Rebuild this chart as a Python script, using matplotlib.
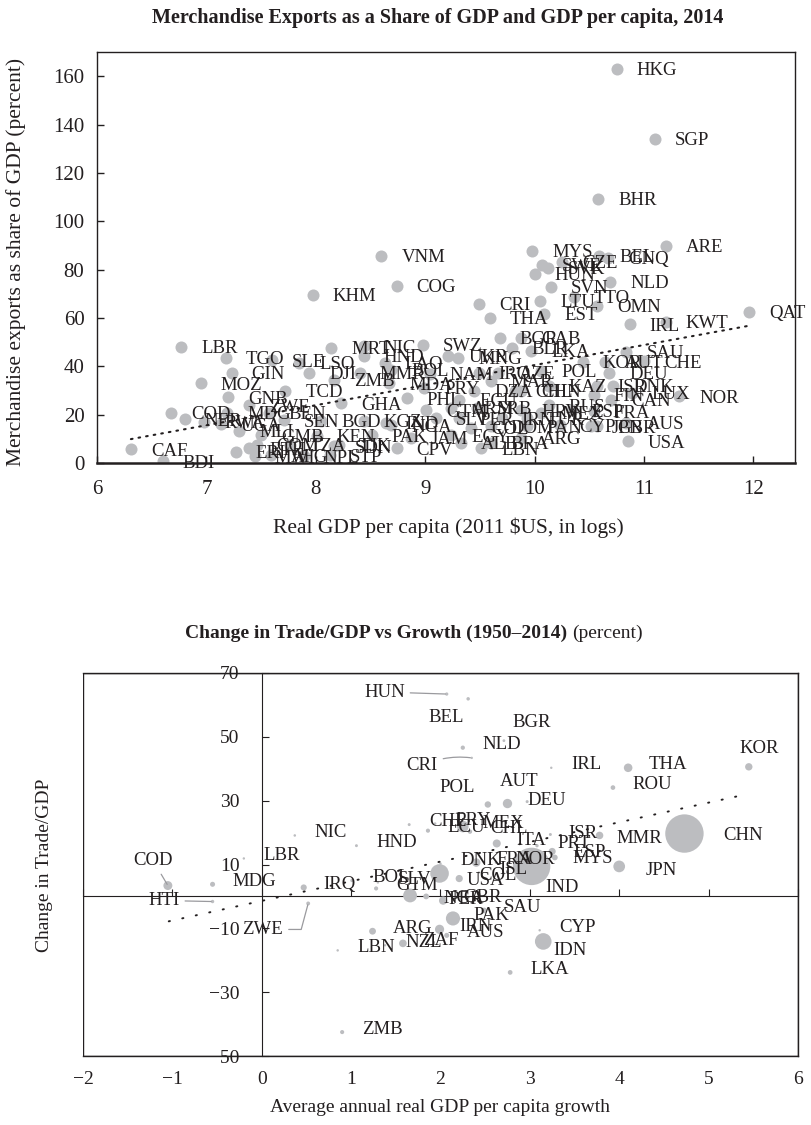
import matplotlib
matplotlib.use('Agg')
import matplotlib.pyplot as plt

plt.rcParams['font.family'] = ['Liberation Serif', 'DejaVu Serif']

INK = '#231f20'
DOT = '#bcbdc0'

# --- top chart: merchandise exports (% of GDP) vs log real GDP per capita, 2014
exp_codes = ['CAF', 'BDI', 'LBR', 'COD', 'NER', 'MOZ', 'TGO', 'GIN', 'GNB', 'ZWE',
             'RWA', 'UGA', 'MDG', 'BEN', 'MLI', 'GMB', 'SEN', 'ERI', 'ETH', 'COM',
             'TZA', 'NPL', 'MWI', 'AFG', 'TCD', 'SLE', 'LSO', 'DJI', 'KHM', 'MRT',
             'ZMB', 'GHA', 'KEN', 'SDN', 'STP', 'BGD', 'KGZ', 'IND', 'PAK', 'JAM',
             'CPV', 'LBN', 'PHL', 'ECU', 'DZA', 'MDA', 'MMR', 'BOL', 'NAM', 'IRQ',
             'AZE', 'HND', 'LAO', 'NIC', 'SWZ', 'UKR', 'MNG', 'BGR', 'GAB', 'BLR',
             'LKA', 'SAU', 'VNM', 'COG', 'CRI', 'THA', 'MYS', 'SWE', 'SVK', 'CZE',
             'BEL', 'GNQ', 'HUN', 'SVN', 'NLD', 'LTU', 'TTO', 'OMN', 'EST', 'IRL',
             'KWT', 'QAT', 'ARE', 'HKG', 'SGP', 'BHR', 'KOR', 'AUT', 'CHE', 'DEU',
             'ISR', 'DNK', 'LUX', 'FIN', 'CAN', 'NOR', 'FRA', 'ESP', 'AUS', 'GBR',
             'JPN', 'USA', 'CYP', 'POL', 'CHN', 'MAR', 'HRV', 'RUS', 'KAZ', 'CHL',
             'IRN', 'TUR', 'MEX', 'PAN', 'DOM', 'BRA', 'ARG', 'PER', 'COL', 'EGY',
             'GTM', 'SLV', 'ARM', 'ALB', 'SRB', 'PRY', 'NGA', 'TJK']
exp_gdp = [6.31, 6.60, 6.77, 6.68, 6.80, 6.95, 7.18, 7.23, 7.20, 7.39,
           6.98, 7.13, 7.19, 7.57, 7.30, 7.50, 7.71, 7.27, 7.39, 7.46,
           7.76, 7.89, 7.44, 7.59, 7.72, 7.60, 7.85, 7.94, 7.97, 8.14,
           8.17, 8.23, 8.01, 8.17, 8.13, 8.05, 8.44, 8.64, 8.51, 8.87,
           8.74, 9.51, 8.83, 9.31, 9.45, 8.67, 8.40, 8.69, 9.04, 9.49,
           9.67, 8.44, 8.63, 8.44, 8.98, 9.21, 9.30, 9.68, 9.88, 9.79,
           9.97, 10.84, 8.60, 8.74, 9.49, 9.59, 9.98, 10.07, 10.12, 10.25,
           10.59, 10.67, 10.00, 10.15, 10.69, 10.05, 10.36, 10.57, 10.09, 10.87,
           11.20, 11.96, 11.20, 10.75, 11.10, 10.58, 10.44, 10.64, 11.00, 10.68,
           10.57, 10.72, 10.89, 10.54, 10.70, 11.32, 10.54, 10.34, 10.84, 10.57,
           10.52, 10.85, 10.23, 10.06, 9.88, 9.60, 9.88, 10.13, 10.13, 9.82,
           9.70, 9.93, 10.06, 9.93, 9.60, 9.60, 9.88, 9.31, 9.42, 9.24,
           9.01, 9.10, 9.24, 9.33, 9.47, 8.99, 8.69, 8.21]
exp_share = [5.8, 0.8, 48.0, 20.7, 18.2, 33.1, 43.5, 37.3, 27.3, 24.0,
             17.0, 16.1, 20.7, 20.7, 13.3, 11.6, 17.8, 4.6, 6.2, 7.5,
             7.5, 2.9, 2.9, 3.3, 29.8, 42.6, 41.4, 37.3, 69.6, 47.6,
             34.4, 24.8, 11.2, 7.0, 3.3, 17.4, 17.4, 16.6, 11.6, 10.4,
             6.2, 6.2, 26.9, 26.1, 29.8, 33.1, 37.3, 38.5, 36.9, 37.3,
             37.3, 44.3, 41.4, 48.4, 48.9, 44.3, 43.5, 51.8, 51.8, 47.6,
             46.4, 46.0, 85.7, 73.3, 65.8, 60.0, 87.8, 82.0, 80.7, 83.2,
             85.7, 84.9, 78.3, 72.9, 75.0, 67.1, 68.7, 65.0, 61.7, 57.5,
             58.4, 62.5, 89.9, 163.1, 134.2, 109.3, 41.8, 41.8, 42.2, 37.3,
             31.9, 31.9, 29.0, 28.2, 26.1, 27.7, 21.5, 21.9, 16.6, 15.3,
             15.3, 9.1, 15.7, 38.1, 29.8, 34.0, 21.9, 24.0, 31.9, 29.8,
             18.6, 18.6, 20.7, 15.3, 15.3, 8.3, 10.4, 18.6, 14.5, 11.6,
             21.9, 18.6, 22.8, 8.3, 22.8, 31.1, 15.7, 7.5]
exp_trend_gdp = [6.31, 11.95]
exp_trend_share = [9.9, 56.7]

# --- bottom chart: change in trade/GDP vs average growth 1950-2014, bubble = population (m)
gr_codes = ['HUN', 'BEL', 'BGR', 'NLD', 'CRI', 'IRL', 'THA', 'KOR', 'POL', 'DEU',
            'AUT', 'ROU', 'CHN', 'MMR', 'ISR', 'PRT', 'ESP', 'MYS', 'ITA', 'JPN',
            'IND', 'CHE', 'ECU', 'PRY', 'MEX', 'CHL', 'NIC', 'HND', 'LBR', 'COD',
            'HTI', 'MDG', 'IRQ', 'ZWE', 'LBN', 'ARG', 'NZL', 'ZAF', 'IRN', 'AUS',
            'ZMB', 'BOL', 'SLV', 'GTM', 'NGA', 'PER', 'GBR', 'PAK', 'SAU', 'CYP',
            'IDN', 'LKA', 'USA', 'DNK', 'FRA', 'NOR', 'ISL', 'COL']
gr_growth = [2.07, 2.31, 2.71, 2.25, 2.35, 3.24, 4.10, 5.45, 2.53, 2.75,
             2.97, 3.93, 4.73, 3.78, 3.23, 3.08, 3.25, 3.28, 2.63, 4.00,
             3.02, 1.65, 1.86, 1.94, 2.25, 2.33, 0.37, 1.06, -0.20, -1.05,
             -0.55, -0.55, 0.47, 0.52, 0.85, 1.24, 1.38, 1.58, 1.99, 2.07,
             0.90, 1.01, 1.30, 1.28, 1.66, 1.84, 2.03, 2.14, 2.49, 3.11,
             3.15, 2.78, 1.99, 2.00, 2.40, 2.62, 2.43, 2.21]
gr_change = [63.4, 61.9, 48.8, 46.6, 43.4, 40.3, 40.3, 40.6, 28.8, 29.1,
             29.7, 34.1, 19.7, 19.1, 19.4, 15.9, 14.1, 12.2, 16.6, 9.4,
             9.4, 22.5, 20.6, 22.8, 21.9, 20.3, 19.1, 15.9, 11.9, 3.4,
             -1.6, 3.8, 2.8, -2.2, -16.9, -10.9, -15.3, -14.7, -10.3, -12.2,
             -42.5, 5.0, 4.4, 2.5, 0.3, 0.0, -1.3, -6.9, -4.4, -10.6,
             -14.1, -23.8, 7.2, 10.3, 10.6, 10.6, 7.5, 5.6]
gr_pop = [9.9, 11.2, 7.2, 16.9, 4.8, 4.6, 68.0, 50.4, 38.0, 81.0,
          8.5, 20.0, 1364.0, 53.0, 8.2, 10.4, 46.0, 30.0, 60.0, 127.0,
          1295.0, 8.1, 16.0, 6.6, 125.0, 18.0, 6.0, 8.0, 4.4, 74.0,
          10.6, 23.6, 35.0, 14.0, 5.6, 43.0, 4.5, 54.0, 78.0, 23.5,
          15.7, 10.6, 6.1, 16.0, 177.0, 31.0, 64.0, 185.0, 30.0, 1.1,
          255.0, 20.6, 319.0, 5.6, 66.0, 5.1, 0.3, 48.0]
gr_trend_growth = [-1.04, 5.36]
gr_trend_change = [-7.8, 31.6]

# label placement in the lower chart (pixel offsets from the dot, alignment, leader line)
PX = 0.72
gr_label_pos = {
    'HUN': (-42, -2, 'right', 'arc3'),
    'BEL': (-40, 19, 'left', None),
    'BGR': (9, -18, 'left', None),
    'CRI': (-34, 8, 'right', 'arc3,rad=-0.15'),
    'KOR': (-9, -18, 'left', None),
    'POL': (-48, -17, 'left', None),
    'AUT': (-27, -20, 'left', None),
    'CHN': (39, 2, 'left', None),
    'MMR': (17, 3, 'left', None),
    'ISR': (18, -1, 'left', None),
    'PRT': (20, -2, 'left', None),
    'ESP': (21, 1, 'left', None),
    'MYS': (18, 1, 'left', None),
    'JPN': (26, 4, 'left', None),
    'IND': (14, 21, 'left', None),
    'COD': (5, -25, 'right', 'arc3'),
    'HTI': (-33, -1, 'right', 'arc3'),
    'ZWE': (-25, 26, 'right', 'angle,angleA=0,angleB=75,rad=0'),
    'IDN': (10, 9, 'left', None),
    'USA': (27, 7, 'left', None),
    'PER': (22, 3, 'left', None),
    'NGA': (33, 3, 'left', None),
}

fig = plt.figure(figsize=(8.11, 11.25), dpi=100)

# ---------------- top chart
ax1 = fig.add_axes([0.1196, 0.5884, 0.8606, 0.3654])
ax1.scatter(exp_gdp, exp_share, s=75, color=DOT, linewidths=0, zorder=2)
ax1.plot(exp_trend_gdp, exp_trend_share, color=INK, lw=1.5,
         linestyle=(0, (0.8, 2.9)), dash_capstyle='round', zorder=3)
for code, gx, sh in zip(exp_codes, exp_gdp, exp_share):
    ax1.annotate(code, (gx, sh), xytext=(20 * PX, -2 * PX), textcoords='offset points',
                 ha='left', va='center', fontsize=13.5, color=INK, zorder=4,
                 annotation_clip=False)
ax1.set_xlim(6, 12.38)
ax1.set_ylim(0, 170)
ax1.set_xticks(range(6, 13))
ax1.set_yticks(range(0, 161, 20))
ax1.tick_params(direction='in', length=5, width=1, colors=INK, labelsize=15,
                top=False, right=False)
ax1.tick_params(axis='x', pad=12)
ax1.tick_params(axis='y', pad=9)
for sp in ax1.spines.values():
    sp.set_color(INK)
    sp.set_linewidth(1.0)
ax1.spines['bottom'].set_linewidth(1.8)

fig.text(438 / 811, 1 - 18 / 1125,
         'Merchandise Exports as a Share of GDP and GDP per capita, 2014',
         ha='center', va='center', fontsize=14.5, fontweight='bold', color=INK)
fig.text(448 / 811, 1 - 528 / 1125, 'Real GDP per capita (2011 $US, in logs)',
         ha='center', va='center', fontsize=15.5, color=INK)
fig.text(16 / 811, 1 - 262 / 1125, 'Merchandise exports as share of GDP (percent)',
         ha='center', va='center', rotation=90, fontsize=15.5, color=INK)

# ---------------- bottom chart
ax2 = fig.add_axes([0.1023, 0.0613, 0.8816, 0.3405])
sizes = [max(0.56 * p, 3) for p in gr_pop]
ax2.scatter(gr_growth, gr_change, s=sizes, color=DOT, linewidths=0, zorder=2)
ax2.plot(gr_trend_growth, gr_trend_change, color=INK, lw=1.4,
         linestyle=(0, (0.6, 6.5)), dash_capstyle='round', zorder=3)
for code, g, c in zip(gr_codes, gr_growth, gr_change):
    dx, dy, ha, conn = gr_label_pos.get(code, (20, -3, 'left', None))
    arrow = None
    if conn is not None:
        arrow = dict(arrowstyle='-', color='#9a9a9e', lw=0.9,
                     connectionstyle=conn, shrinkA=2, shrinkB=1)
    ax2.annotate(code, (g, c), xytext=(dx * PX, -dy * PX), textcoords='offset points',
                 ha=ha, va='center', fontsize=13.5, color=INK, zorder=4,
                 arrowprops=arrow, annotation_clip=False)
ax2.set_xlim(-2, 6)
ax2.set_ylim(-50, 70)

# box outline; left spine sits on x = 0 and carries the y ticks
ax2.spines['left'].set_position(('data', 0))
ax2.spines['left'].set_color(INK)
for side in ['top', 'right', 'bottom']:
    ax2.spines[side].set_color(INK)
    ax2.spines[side].set_linewidth(1.0)
ax2.add_patch(plt.Rectangle((0, 0), 1, 1, transform=ax2.transAxes, fill=False,
                            edgecolor=INK, lw=1.0, zorder=1))
ax2.set_yticks(range(-50, 71, 20))
ax2.tick_params(axis='y', direction='in', length=5, colors=INK, labelsize=14, pad=16)
ax2.set_xticks(range(-2, 7))
ax2.set_xticklabels(['\u22122', '\u22121', '0', '1', '2', '3', '4', '5', '6'])
ax2.tick_params(axis='x', length=0, colors=INK, labelsize=14, pad=11)

# x ticks drawn on the zero line
zero = ax2.secondary_xaxis(50 / 120)
zero.set_xticks(range(-2, 7))
zero.tick_params(direction='in', length=5, colors=INK, labelbottom=False)
zero.spines['bottom'].set_color(INK)

fig.text(567 / 811, 1 - 633 / 1125, 'Change in Trade/GDP vs Growth (1950\u20132014)',
         ha='right', va='center', fontsize=14, fontweight='bold', color=INK)
fig.text(572 / 811, 1 - 633 / 1125, '(percent)',
         ha='left', va='center', fontsize=14, color=INK)
fig.text(440 / 811, 1 - 1108 / 1125, 'Average annual real GDP per capita growth',
         ha='center', va='center', fontsize=14, color=INK)
fig.text(45 / 811, 1 - 865 / 1125, 'Change in Trade/GDP',
         ha='center', va='center', rotation=90, fontsize=14, color=INK)

fig.savefig('out.png', dpi=100)
